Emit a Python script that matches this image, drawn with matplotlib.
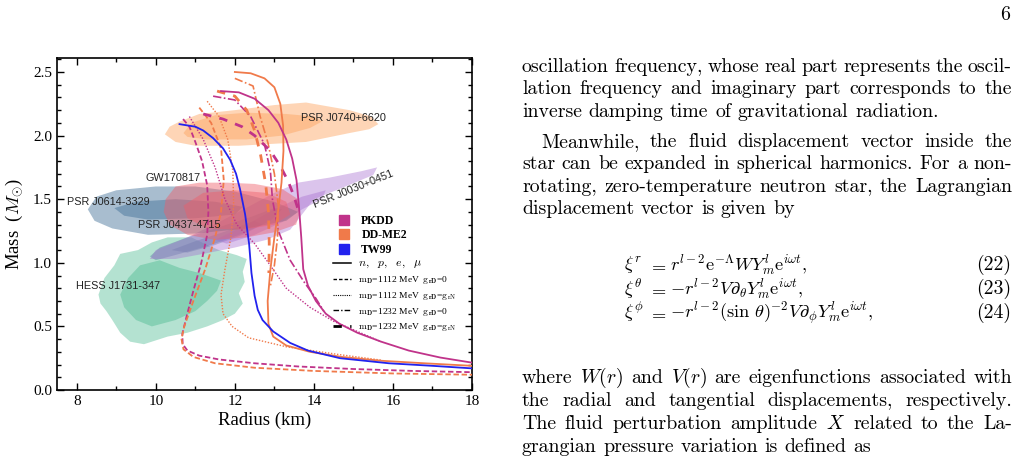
import matplotlib
matplotlib.use('Agg')
import matplotlib.pyplot as plt
from matplotlib.lines import Line2D
from matplotlib.transforms import IdentityTransform
from matplotlib.ticker import MultipleLocator, FormatStrFormatter

plt.rcParams['mathtext.fontset'] = 'cm'
plt.rcParams['font.family'] = 'Liberation Serif'

# ---------------- mass-radius curves (R in km, M in M_sun) ----------------
pkdd_np_R = [11.65, 12.1, 12.5, 12.85, 13.1, 13.3, 13.45, 13.56, 13.62, 13.68, 13.73, 13.85, 14.05, 14.3, 14.65, 15.1, 15.7, 16.4, 17.2, 18.0]
pkdd_np_M = [2.35, 2.34, 2.29, 2.2, 2.1, 1.97, 1.82, 1.65, 1.45, 1.2, 0.95, 0.82, 0.7, 0.6, 0.52, 0.45, 0.38, 0.31, 0.255, 0.215]
pkdd_a_R = [10.69, 10.85, 11.0, 11.17, 11.3, 11.33, 11.3, 11.15, 10.95, 10.78, 10.67, 10.68, 10.8, 11.1, 11.6, 12.5, 13.6, 15.0, 16.5, 18.0]
pkdd_a_M = [2.13, 2.07, 1.95, 1.8, 1.61, 1.4, 1.22, 1.0, 0.78, 0.58, 0.44, 0.36, 0.31, 0.27, 0.24, 0.21, 0.185, 0.165, 0.15, 0.14]
pkdd_b_R = [10.85, 11.2, 11.5, 11.75, 12.05, 12.5, 12.85, 13.3, 13.9, 14.5, 15.1, 15.7]
pkdd_b_M = [2.15, 1.97, 1.75, 1.5, 1.3, 1.15, 1.0, 0.8, 0.65, 0.54, 0.46, 0.38]
pkdd_c_R = [11.45, 12.0, 12.4, 12.75, 12.9, 12.95, 13.1, 13.4, 13.75, 14.05, 14.25]
pkdd_c_M = [2.31, 2.28, 2.15, 1.93, 1.72, 1.5, 1.25, 1.02, 0.85, 0.72, 0.62]
pkdd_d_R = [11.2, 11.7, 12.18, 12.5, 12.9, 13.15, 13.35, 13.5, 13.6]
pkdd_d_M = [2.17, 2.13, 2.07, 2.0, 1.88, 1.76, 1.64, 1.52, 1.42]

ddme2_np_R = [12.0, 12.4, 12.75, 13.0, 13.15, 13.22, 13.23, 13.18, 13.1, 13.0, 12.9, 12.83, 12.85, 12.97, 13.3, 13.9, 14.7, 15.7, 16.8, 18.0]
ddme2_np_M = [2.5, 2.49, 2.45, 2.38, 2.25, 2.08, 1.88, 1.63, 1.42, 1.2, 0.95, 0.7, 0.52, 0.42, 0.35, 0.3, 0.26, 0.23, 0.21, 0.19]
ddme2_a_R = [11.1, 11.4, 11.65, 11.72, 11.65, 11.5, 11.25, 10.95, 10.72, 10.65, 10.7, 10.95, 11.5, 12.5, 14.0, 16.0, 18.0]
ddme2_a_M = [2.22, 2.1, 1.9, 1.65, 1.4, 1.2, 0.95, 0.7, 0.5, 0.4, 0.32, 0.26, 0.21, 0.175, 0.15, 0.13, 0.12]
ddme2_b_R = [11.3, 11.6, 11.82, 11.95, 11.97, 11.9, 11.75, 11.65, 11.7, 11.93, 12.35, 13.3, 14.6, 15.7]
ddme2_b_M = [2.27, 2.15, 1.97, 1.72, 1.45, 1.2, 0.95, 0.75, 0.6, 0.5, 0.41, 0.34, 0.28, 0.235]
ddme2_c_R = [12.0, 12.46, 12.64, 12.84, 13.0, 13.1, 13.08, 13.0, 12.9]
ddme2_c_M = [2.45, 2.39, 2.15, 1.94, 1.7, 1.45, 1.2, 0.98, 0.82]
ddme2_d_R = [11.55, 12.0, 12.3, 12.5, 12.65, 12.78, 12.85, 12.87, 12.86]
ddme2_d_M = [2.35, 2.31, 2.2, 2.04, 1.85, 1.62, 1.4, 1.15, 0.92]

tw99_R = [10.6, 11.0, 11.2, 11.45, 11.7, 11.88, 12.03, 12.13, 12.26, 12.36, 12.42, 12.5, 12.58, 12.7, 12.97, 13.4, 13.85, 14.66, 15.9, 17.0, 18.0]
tw99_M = [2.09, 2.07, 2.04, 1.98, 1.9, 1.81, 1.7, 1.58, 1.38, 1.15, 0.92, 0.74, 0.63, 0.55, 0.46, 0.37, 0.31, 0.25, 0.21, 0.19, 0.17]

# ---------------- observational regions (outer / inner outlines) ----------------
j0740_out_R = [10.23, 10.35, 10.6, 11.1, 12.0, 13.0, 13.8, 14.9, 15.45, 15.63, 15.4, 14.9, 13.8, 12.1, 11.0, 10.5]
j0740_out_M = [2.01, 2.07, 2.11, 2.17, 2.2, 2.24, 2.26, 2.2, 2.15, 2.09, 2.05, 2.02, 1.95, 1.92, 1.92, 1.95]
j0740_in_R = [10.7, 10.9, 11.5, 12.3, 13.3, 14.0, 14.2, 13.9, 13.2, 12.3, 11.3, 10.8]
j0740_in_M = [2.02, 2.1, 2.16, 2.18, 2.17, 2.15, 2.11, 2.06, 2.0, 1.97, 1.97, 1.99]

gw_out_R = [10.25, 10.5, 11.1, 11.8, 12.5, 13.2, 13.6, 13.65, 13.55, 13.0, 12.3, 11.5, 10.8, 10.35, 10.2]
gw_out_M = [1.5, 1.6, 1.63, 1.63, 1.62, 1.58, 1.5, 1.4, 1.3, 1.24, 1.2, 1.18, 1.22, 1.3, 1.4]
gw_in_R = [10.7, 11.2, 12.0, 12.8, 13.3, 13.4, 13.0, 12.2, 11.3, 10.8]
gw_in_M = [1.45, 1.55, 1.57, 1.55, 1.48, 1.38, 1.3, 1.26, 1.27, 1.35]

j0614_out_R = [8.28, 8.5, 9.0, 10.0, 11.0, 12.0, 13.0, 13.6, 13.3, 12.3, 11.0, 9.8, 8.9, 8.45]
j0614_out_M = [1.42, 1.52, 1.57, 1.6, 1.6, 1.56, 1.48, 1.4, 1.33, 1.27, 1.23, 1.22, 1.27, 1.33]
j0614_in_R = [8.95, 9.5, 10.5, 11.5, 12.2, 12.0, 11.0, 9.8, 9.2]
j0614_in_M = [1.43, 1.48, 1.5, 1.48, 1.44, 1.38, 1.35, 1.34, 1.37]

j0437_out_R = [9.85, 10.1, 10.8, 11.6, 12.4, 13.0, 13.2, 12.9, 12.2, 11.4, 10.6, 10.0]
j0437_out_M = [1.05, 1.12, 1.2, 1.28, 1.36, 1.43, 1.42, 1.33, 1.23, 1.14, 1.07, 1.02]
j0437_in_R = [10.4, 11.0, 11.8, 12.5, 12.7, 12.2, 11.5, 10.8]
j0437_in_M = [1.1, 1.17, 1.25, 1.33, 1.3, 1.22, 1.14, 1.08]

j0030_out_R = [9.85, 10.0, 10.8, 11.6, 12.4, 13.0, 13.6, 14.4, 15.2, 15.6, 15.5, 14.8, 14.0, 13.7, 13.4, 12.8, 12.0, 11.2, 10.5]
j0030_out_M = [1.03, 1.1, 1.2, 1.32, 1.45, 1.55, 1.63, 1.67, 1.72, 1.75, 1.69, 1.6, 1.5, 1.38, 1.26, 1.18, 1.12, 1.07, 1.03]
j0030_in_R = [11.5, 12.3, 13.0, 13.7, 14.3, 14.2, 13.7, 13.2, 12.5, 11.8]
j0030_in_M = [1.18, 1.3, 1.42, 1.52, 1.57, 1.5, 1.42, 1.32, 1.22, 1.15]

hess_out_R = [8.55, 8.7, 8.95, 9.1, 9.55, 9.9, 10.3, 10.9, 11.3, 11.6, 12.05, 12.3, 12.2, 12.25, 12.1, 12.2, 12.0, 11.7, 11.3, 10.8, 10.3, 9.7, 9.35, 9.1, 8.9, 8.75, 8.6]
hess_out_M = [0.75, 0.88, 0.98, 1.07, 1.1, 1.16, 1.2, 1.2, 1.14, 1.1, 1.06, 1.03, 0.93, 0.85, 0.76, 0.68, 0.6, 0.55, 0.5, 0.45, 0.42, 0.36, 0.38, 0.45, 0.55, 0.62, 0.68]
hess_in_R = [9.1, 9.3, 9.6, 10.1, 10.6, 11.1, 11.65, 11.55, 11.3, 11.0, 10.5, 9.9, 9.5, 9.2]
hess_in_M = [0.75, 0.88, 0.98, 1.02, 0.96, 0.92, 0.86, 0.78, 0.7, 0.62, 0.55, 0.5, 0.55, 0.65]

model_names = ['PKDD', 'DD-ME2', 'TW99']
style_labels = [r'$n,\ \ p,\ \ e,\ \ \mu$',
                r'$\mathrm{m}_{\mathbf{D}}$=1112 MeV  $\mathrm{g}_{\mathbf{rD}}$=0',
                r'$\mathrm{m}_{\mathbf{D}}$=1112 MeV  $\mathrm{g}_{\mathbf{rD}}$=$\mathrm{g}_{\mathrm{rN}}$',
                r'$\mathrm{m}_{\mathbf{D}}$=1232 MeV  $\mathrm{g}_{\mathbf{rD}}$=0',
                r'$\mathrm{m}_{\mathbf{D}}$=1232 MeV  $\mathrm{g}_{\mathbf{rD}}$=$\mathrm{g}_{\mathrm{rN}}$']

c_pkdd, c_ddme2, c_tw99 = '#C0338A', '#F07A4A', '#2222EE'

W, H = 1018, 461
fig = plt.figure(figsize=(W / 100, H / 100), dpi=100)
ax = fig.add_axes([57 / W, 71 / H, 415 / W, 332 / H])

# regions
regions = [
    (hess_out_R, hess_out_M, hess_in_R, hess_in_M, '#3CB486', 0.38),
    (j0437_out_R, j0437_out_M, j0437_in_R, j0437_in_M, '#4F7F9A', 0.4),
    (j0030_out_R, j0030_out_M, j0030_in_R, j0030_in_M, '#A66CD0', 0.4),
    (j0614_out_R, j0614_out_M, j0614_in_R, j0614_in_M, '#3E6E96', 0.45),
    (gw_out_R, gw_out_M, gw_in_R, gw_in_M, '#EE5E6A', 0.45),
    (j0740_out_R, j0740_out_M, j0740_in_R, j0740_in_M, '#FDA35E', 0.45),
]
for i, (ro, mo, ri, mi, c, a) in enumerate(regions):
    ax.fill(ro, mo, color=c, alpha=a, lw=0, zorder=1 + i * 0.1)
    ax.fill(ri, mi, color=c, alpha=a, lw=0, zorder=1.05 + i * 0.1)

# curves
st_a = dict(lw=1.3, dashes=(3, 1.5))
st_b = dict(lw=1.0, dashes=(1, 1.2))
st_c = dict(lw=1.2, dashes=(5, 1.5, 1, 1.5))
st_d = dict(lw=2.0, dashes=(3, 3))
for R, M, c, st in [
    (pkdd_a_R, pkdd_a_M, c_pkdd, st_a), (ddme2_a_R, ddme2_a_M, c_ddme2, st_a),
    (pkdd_b_R, pkdd_b_M, c_pkdd, st_b), (ddme2_b_R, ddme2_b_M, c_ddme2, st_b),
    (pkdd_c_R, pkdd_c_M, c_pkdd, st_c), (ddme2_c_R, ddme2_c_M, c_ddme2, st_c),
    (pkdd_d_R, pkdd_d_M, c_pkdd, st_d), (ddme2_d_R, ddme2_d_M, c_ddme2, st_d),
]:
    ax.plot(R, M, color=c, zorder=3, **st)
ax.plot(ddme2_np_R, ddme2_np_M, color=c_ddme2, lw=1.3, zorder=4)
ax.plot(tw99_R, tw99_M, color=c_tw99, lw=1.3, zorder=4)
ax.plot(pkdd_np_R, pkdd_np_M, color=c_pkdd, lw=1.3, zorder=4)

lab = dict(family='Liberation Sans', fontsize=7.8, color='#222222', zorder=6)
ax.text(13.68, 2.14, 'PSR J0740+6620', va='center', **lab)
ax.text(9.75, 1.67, 'GW170817', va='center', **lab)
ax.text(7.75, 1.48, 'PSR J0614-3329', va='center', **lab)
ax.text(9.55, 1.30, 'PSR J0437-4715', va='center', **lab)
ax.text(7.98, 0.82, 'HESS J1731-347', va='center', **lab)
ax.text(15.0, 1.575, 'PSR J0030+0451', ha='center', va='center', rotation=22, **lab)

# legends: models, then line styles
mh = [Line2D([], [], marker='s', ls='none', color=c, markersize=7.5) for c in (c_pkdd, c_ddme2, c_tw99)]
leg1 = ax.legend(mh, model_names, loc='upper left', bbox_to_anchor=(0.665, 0.527), frameon=False,
                 prop={'family': 'Liberation Serif', 'weight': 'bold', 'size': 8.5},
                 handlelength=1.8, handletextpad=0.6, borderaxespad=0, borderpad=0, labelspacing=0.2)
leg1.set_zorder(7)
ax.add_artist(leg1)
sh = [Line2D([], [], color='k', lw=1.1),
      Line2D([], [], color='k', lw=1.0, dashes=(2.5, 1.5)),
      Line2D([], [], color='k', lw=0.8, dashes=(1, 1)),
      Line2D([], [], color='k', lw=1.0, dashes=(4, 1.5, 1, 1.5)),
      Line2D([], [], color='k', lw=2.0, dashes=(3, 3))]
leg2 = ax.legend(sh, style_labels, loc='upper left', bbox_to_anchor=(0.665, 0.4), frameon=False,
                 prop={'family': 'Liberation Serif', 'size': 6.8},
                 handlelength=1.9, handletextpad=0.7, borderaxespad=0, borderpad=0, labelspacing=0.4)
leg2.get_texts()[0].set_fontsize(8.5)
leg2.set_zorder(7)

ax.set_xlim(7.5, 18)
ax.set_ylim(0, 2.61)
ax.xaxis.set_major_locator(MultipleLocator(2))
ax.xaxis.set_minor_locator(MultipleLocator(1))
ax.yaxis.set_major_locator(MultipleLocator(0.5))
ax.yaxis.set_minor_locator(MultipleLocator(0.1))
ax.yaxis.set_major_formatter(FormatStrFormatter('%.1f'))
ax.tick_params(which='both', direction='in', top=True, right=True, labelsize=11, width=1)
ax.tick_params(which='major', length=5)
ax.tick_params(which='minor', length=3)
for s in ax.spines.values():
    s.set_linewidth(1.2)
ax.set_xlabel('Radius (km)', fontsize=13.5, labelpad=3)
ax.set_ylabel(r'Mass  ($M_{\odot}$)', fontsize=13.5, labelpad=6)

# ---------------- page text (right column) ----------------
renderer = fig.canvas.get_renderer()
FS = 14.3
space = 0.333 * FS * 100 / 72


def put_line(s, x0, ybase, x1=None):
    words = s.split(' ')
    ts = [fig.text(0, 0, w, fontsize=FS, family='cmr10', va='baseline', ha='left',
                   transform=IdentityTransform()) for w in words]
    widths = [t.get_window_extent(renderer).width for t in ts]
    gap = space if x1 is None else (x1 - x0 - sum(widths)) / (len(words) - 1)
    x = x0
    for t, w in zip(ts, widths):
        t.set_position((x, H - ybase))
        x += w + gap


body = [
    ('oscillation frequency, whose real part represents the oscil-', 522, 72, 1012),
    ('lation frequency and imaginary part corresponds to the', 522, 94, 1012),
    ('inverse damping time of gravitational radiation.', 522, 117, None),
    ('Meanwhile, the fluid displacement vector inside the', 541, 147, 1012),
    ('star can be expanded in spherical harmonics. For a non-', 522, 169, 1012),
    ('rotating, zero-temperature neutron star, the Lagrangian', 522, 192, 1012),
    ('displacement vector is given by', 522, 214, None),
    ('where $W(r)$ and $V(r)$ are eigenfunctions associated with', 522, 383, 1012),
    ('the radial and tangential displacements, respectively.', 522, 406, 1012),
    ('The fluid perturbation amplitude $X$ related to the La-', 522, 429, 1012),
    ('grangian pressure variation is defined as', 522, 452, None),
]
for s, x0, y, x1 in body:
    put_line(s, x0, y, x1)

eq_lhs = [r'$\xi^r$', r'$\xi^\theta$', r'$\xi^\phi$']
eq_rhs = [r'$r^{l-2}\mathrm{e}^{-\Lambda}WY_m^l\mathrm{e}^{i\omega t},$',
          r'$-r^{l-2}V\partial_\theta Y_m^l\mathrm{e}^{i\omega t},$',
          r'$-r^{l-2}(\sin\,\theta)^{-2}V\partial_\phi Y_m^l\mathrm{e}^{i\omega t},$']
eq_num = ['(22)', '(23)', '(24)']
eq_y = [270, 294, 318]
for lhs, rhs, num, y in zip(eq_lhs, eq_rhs, eq_num, eq_y):
    kw = dict(va='baseline', transform=IdentityTransform())
    fig.text(624, H - y, lhs, ha='left', fontsize=13.2, **kw)
    fig.text(657, H - y, '$=$', ha='center', fontsize=13.2, **kw)
    fig.text(670, H - y, rhs, ha='left', fontsize=13.2, **kw)
    fig.text(1011, H - y, num, ha='right', family='cmr10', fontsize=FS, **kw)

fig.text(1005, H - 20, '6', fontsize=FS, family='cmr10', ha='center', va='baseline',
         transform=IdentityTransform())

fig.savefig('out.png', dpi=100)
